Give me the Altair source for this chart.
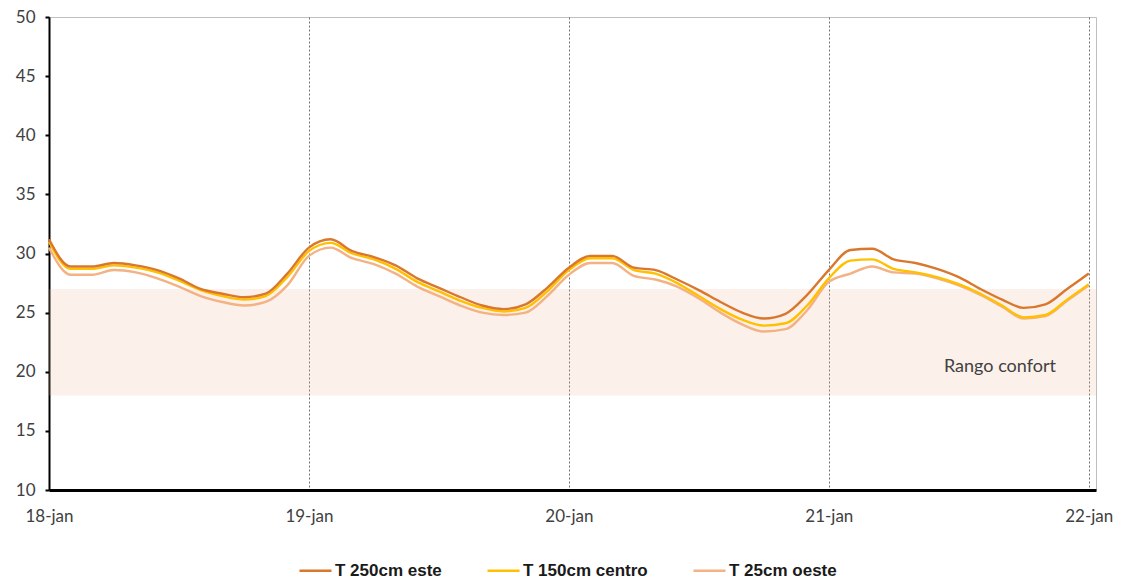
import altair as alt
import pandas as pd

# hours since 18-jan 00:00, every 2 hours
hours = list(range(0, 97, 2))
day_ticks = [0, 24, 48, 72, 96]
day_labels = ["18-jan", "19-jan", "20-jan", "21-jan", "22-jan"]
y_ticks = [10, 15, 20, 25, 30, 35, 40, 45, 50]

series_names = ["T 250cm este", "T 150cm centro", "T 25cm oeste"]
series_colors = ["#D9782D", "#FFC000", "#F4B183"]

t250_este = [31.2, 28.9, 28.9, 29.2, 29.0, 28.6, 27.9, 27.0, 26.6, 26.3, 26.6, 28.3,
             30.5, 31.2, 30.2, 29.7, 29.0, 27.9, 27.1, 26.3, 25.6, 25.3, 25.7, 27.1,
             28.8, 29.8, 29.8, 28.8, 28.6, 27.8, 26.9, 25.9, 25.0, 24.5, 24.9, 26.5,
             28.6, 30.3, 30.4, 29.5, 29.2, 28.7, 28.0, 27.0, 26.1, 25.4, 25.7, 27.0, 28.3]
t150_centro = [31.0, 28.7, 28.7, 29.0, 28.8, 28.4, 27.7, 26.9, 26.4, 26.1, 26.4, 28.0,
               30.2, 30.9, 30.0, 29.5, 28.7, 27.6, 26.8, 26.0, 25.4, 25.1, 25.4, 26.8,
               28.6, 29.6, 29.6, 28.6, 28.3, 27.5, 26.4, 25.3, 24.4, 23.9, 24.1, 25.6,
               27.9, 29.4, 29.5, 28.7, 28.4, 28.0, 27.4, 26.6, 25.6, 24.6, 24.8, 26.1, 27.4]
t25_oeste = [30.5, 28.2, 28.2, 28.6, 28.4, 27.9, 27.2, 26.4, 25.9, 25.6, 25.9, 27.3,
             29.8, 30.5, 29.6, 29.1, 28.3, 27.2, 26.4, 25.6, 25.0, 24.8, 25.0, 26.4,
             28.2, 29.2, 29.2, 28.1, 27.8, 27.2, 26.2, 25.0, 24.0, 23.4, 23.6, 25.2,
             27.6, 28.3, 28.9, 28.4, 28.3, 27.9, 27.3, 26.5, 25.5, 24.5, 24.7, 26.0, 27.3]

comfort_low = [18]
comfort_high = [27]
comfort_label = ["Rango confort"]
comfort_label_x = [87.8]
comfort_label_y = [20.4]

x_max = 96.67
W, H = 1047, 473

rows = []
for name, vals in zip(series_names, [t250_este, t150_centro, t25_oeste]):
    for h, v in zip(hours, vals):
        rows.append({"h": h, "T": v, "serie": name})
df = pd.DataFrame(rows)

xscale = alt.Scale(domain=[0, x_max], nice=False, zero=False)
yscale = alt.Scale(domain=[10, 50], nice=False, zero=False)

label_expr = "[" + ",".join(f"'{l}'" for l in day_labels) + "][round(datum.value/24)]"

x_axis = alt.Axis(values=day_ticks, labelExpr=label_expr, grid=True,
                  gridDash=[2, 2], gridColor="#6F6F6F", gridWidth=1,
                  domainColor="#000000", domainWidth=3, ticks=False,
                  labelPadding=18, labelFont="Lato", labelFontSize=17,
                  labelColor="#404040", labelAlign="center", title=None)
y_axis = alt.Axis(values=y_ticks, grid=False,
                  domainColor="#000000", domainWidth=2,
                  tickColor="#000000", tickSize=4, tickWidth=2,
                  labelPadding=10, labelFont="Lato", labelFontSize=17,
                  labelColor="#404040", title=None)

band = alt.Chart(pd.DataFrame({"lo": comfort_low, "hi": comfort_high})).mark_rect(
    color="#F0B996", opacity=0.2
).encode(
    x=alt.value(0), x2=alt.value(W),
    y=alt.Y("lo:Q", scale=yscale, axis=y_axis),
    y2="hi:Q",
)

band_text = alt.Chart(pd.DataFrame({"t": comfort_label, "x": comfort_label_x, "y": comfort_label_y})).mark_text(
    font="Lato", fontSize=18, color="#404040", align="center", baseline="middle"
).encode(
    x=alt.X("x:Q", scale=xscale, axis=x_axis),
    y=alt.Y("y:Q", scale=yscale, axis=y_axis),
    text="t:N",
)

lines = alt.Chart(df).mark_line(strokeWidth=2.4, interpolate="monotone").encode(
    x=alt.X("h:Q", scale=xscale, axis=x_axis),
    y=alt.Y("T:Q", scale=yscale, axis=y_axis),
    color=alt.Color("serie:N",
                    scale=alt.Scale(domain=series_names, range=series_colors),
                    legend=alt.Legend(orient="none", legendX=249, legendY=536,
                                      direction="horizontal", title=None,
                                      symbolType="stroke", symbolSize=1024,
                                      symbolStrokeWidth=2.5,
                                      labelFont="Liberation Sans", labelFontWeight="bold",
                                      labelFontSize=17, labelColor="#1a1a1a",
                                      labelOffset=2, columnPadding=40)),
    order=alt.Order("h:Q"),
)

lines_ordered = alt.layer(
    *[lines.transform_filter(alt.datum.serie == n) for n in reversed(series_names)]
)

chart = alt.layer(band, band_text, lines_ordered).properties(
    width=W, height=H,
    autosize=alt.AutoSizeParams(type="none"),
    padding={"left": 41, "top": 9, "right": 25, "bottom": 92},
).configure_view(stroke="#BFBFBF", strokeWidth=1)

chart.save("out.html", embed_options={"renderer": "svg", "actions": False})
